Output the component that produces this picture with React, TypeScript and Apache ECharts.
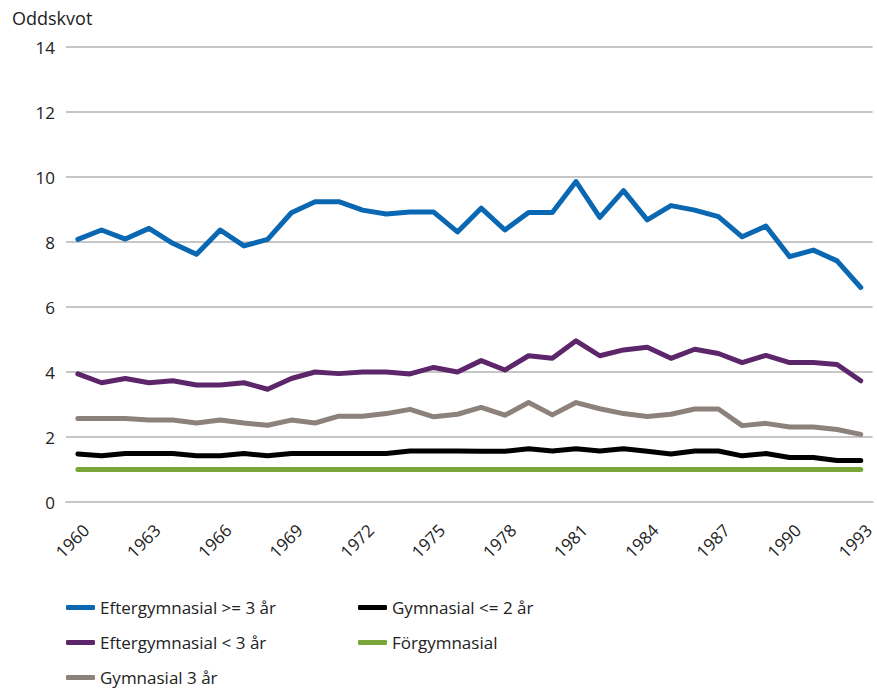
import React, { useEffect, useRef } from "react";
import * as echarts from "echarts";

const years: string[] = [];
for (let y = 1960; y <= 1993; y++) years.push(String(y));

const eftergymnasialHigh = [8.08, 8.37, 8.09, 8.42, 7.96, 7.62, 8.37, 7.88, 8.08, 8.9, 9.24, 9.24, 8.98, 8.86, 8.92, 8.92, 8.31, 9.04, 8.37, 8.91, 8.91, 9.86, 8.76, 9.58, 8.68, 9.12, 8.98, 8.78, 8.16, 8.49, 7.55, 7.75, 7.42, 6.6];
const eftergymnasialLow = [3.94, 3.67, 3.8, 3.67, 3.73, 3.6, 3.6, 3.67, 3.47, 3.8, 4.0, 3.95, 4.0, 4.0, 3.94, 4.14, 4.0, 4.35, 4.06, 4.5, 4.42, 4.96, 4.5, 4.68, 4.76, 4.42, 4.7, 4.57, 4.29, 4.51, 4.29, 4.29, 4.23, 3.73];
const gymnasial3 = [2.57, 2.57, 2.57, 2.52, 2.52, 2.43, 2.52, 2.43, 2.36, 2.52, 2.43, 2.64, 2.64, 2.72, 2.85, 2.62, 2.7, 2.91, 2.67, 3.06, 2.68, 3.06, 2.87, 2.72, 2.63, 2.7, 2.86, 2.86, 2.35, 2.42, 2.31, 2.31, 2.23, 2.08];
const gymnasial2 = [1.48, 1.42, 1.49, 1.49, 1.49, 1.42, 1.42, 1.49, 1.42, 1.49, 1.49, 1.49, 1.49, 1.49, 1.57, 1.57, 1.57, 1.56, 1.56, 1.64, 1.57, 1.64, 1.57, 1.64, 1.56, 1.48, 1.57, 1.57, 1.42, 1.49, 1.37, 1.37, 1.28, 1.28];
const forgymnasial = years.map(() => 1.0);

const names = ["Eftergymnasial >= 3 år", "Eftergymnasial < 3 år", "Gymnasial 3 år", "Gymnasial <= 2 år", "Förgymnasial"];
const colors = ["#0a67b2", "#5d266a", "#8d817c", "#000000", "#79a637"];
const seriesData = [eftergymnasialHigh, eftergymnasialLow, gymnasial3, gymnasial2, forgymnasial];

const FONT = "'Open Sans', sans-serif";

export default function App() {
  const ref = useRef<HTMLDivElement>(null);
  useEffect(() => {
    if (!ref.current) return;
    const chart = echarts.init(ref.current, undefined, { renderer: "svg" });
    const legendCommon = {
      orient: "vertical" as const,
      top: 594,
      itemWidth: 29,
      itemHeight: 5,
      itemGap: 18,
      icon: "roundRect",
      textStyle: { fontFamily: FONT, fontSize: 17, color: "#222" },
    };
    chart.setOption({
      animation: false,
      backgroundColor: "#ffffff",
      title: {
        text: "Oddskvot",
        left: 7,
        top: 4,
        textStyle: { fontFamily: FONT, fontSize: 18, fontWeight: "normal", color: "#222" },
      },
      grid: { left: 66, right: 3, top: 47, bottom: 191, containLabel: false },
      legend: [
        { ...legendCommon, left: 61, data: [names[0], names[1], names[2]] },
        { ...legendCommon, left: 353, data: [names[3], names[4]] },
      ],
      xAxis: {
        type: "category",
        data: years,
        boundaryGap: true,
        axisLine: { show: true, lineStyle: { color: "#c6c6c6", width: 2 } },
        axisTick: { show: false },
        axisLabel: {
          interval: 2,
          rotate: 45,
          margin: 17,
          verticalAlign: "top",
          padding: [3, 0, 0, 0],
          fontFamily: FONT,
          fontSize: 17,
          color: "#222",
        },
      },
      yAxis: {
        type: "value",
        min: 0,
        max: 14,
        interval: 2,
        axisLine: { show: false },
        axisTick: { show: false },
        splitLine: { lineStyle: { color: "#c6c6c6", width: 2 } },
        axisLabel: { margin: 11, fontFamily: FONT, fontSize: 17, color: "#222" },
      },
      series: names.map((n, i) => ({
        name: n,
        type: "line",
        data: seriesData[i],
        showSymbol: false,
        symbol: "none",
        z: 10 - i,
        color: colors[i],
        lineStyle: { width: 5, color: colors[i], cap: "round", join: "round" },
      })),
    });
    return () => chart.dispose();
  }, []);
  return (
    <div
      ref={ref}
      style={{ position: "absolute", left: 0, top: 0, width: 877, height: 693 }}
    />
  );
}
